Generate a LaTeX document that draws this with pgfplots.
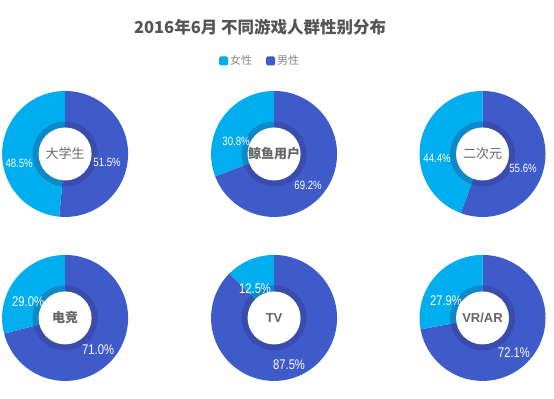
\documentclass[border=0pt]{standalone}
\usepackage{fontspec}
\usepackage{pgfplots}
\usepackage{pgfplotstable}
\pgfplotsset{compat=1.18}
\setmainfont{Noto Sans CJK SC}
\newfontfamily\cjk{Noto Sans CJK SC}
\newfontfamily\labfont[FakeStretch=0.8]{Liberation Sans}
\newfontfamily\latin{Liberation Sans}
\definecolor{fcol}{HTML}{00AEEF}
\definecolor{mcol}{HTML}{3F5BC9}
\definecolor{fdark}{HTML}{0E88C6}
\definecolor{mdark}{HTML}{3A4DAE}
\definecolor{titlegray}{HTML}{555555}
\definecolor{leggray}{HTML}{888888}
\definecolor{cgray}{HTML}{666666}
\tikzset{
  clabA/.style={font=\cjk\fontsize{13pt}{13pt}\selectfont, text=cgray},
  clabB/.style={font=\cjk\bfseries\fontsize{13pt}{13pt}\selectfont, text=cgray},
  clabC/.style={font=\latin\bfseries\fontsize{13pt}{13pt}\selectfont, text=cgray},
}
% cx cy: donut centre; female/male in %; fx fy / mx my: label positions; ls: label size
\pgfplotstableread{
cx    cy  female male fx  fy  mx  my  ls   cs name
65    245 48.5   51.5 19  236 107 237 12   A  大学生
274   245 30.8   69.2 236 258 308 214 12   B  鲸鱼用户
482.5 245 44.4   55.6 437 241 523 231 12   A  二次元
65    81  29.0   71.0 28  97  98  49  14   B  电竞
274   81  12.5   87.5 255 110 289 34  14   C  TV
482.5 81  27.9   72.1 446 98  514 46  14   C  VR/AR
}\pies
\begin{document}
\begin{tikzpicture}
\begin{axis}[
  x=1pt, y=1pt, xmin=0, xmax=554, ymin=0, ymax=399,
  disabledatascaling, hide axis, clip=false,
  legend columns=2,
  legend image code/.code={\fill[#1, rounded corners=1.5pt] (0pt,-4.5pt) rectangle (9pt,4.5pt);},
  legend style={at={(axis description cs:0.4693,0.8471)}, anchor=center, draw=none, fill=none,
    font=\fontsize{11pt}{11pt}\selectfont\color{leggray},
    /tikz/every even column/.append style={column sep=12pt}},
]
\fill[white] (axis cs:0,0) rectangle (axis cs:554,399);
\addlegendimage{fill=fcol, draw=none}
\addlegendentry{女性}
\addlegendimage{fill=mcol, draw=none}
\addlegendentry{男性}
\node[font=\bfseries\fontsize{16.5pt}{16.5pt}\selectfont, text=titlegray] at (axis cs:260,372) {2016年6月 不同游戏人群性别分布};
\pgfplotsforeachungrouped \i in {0,...,5}{%
  \pgfplotstablegetelem{\i}{cx}\of\pies\let\cx\pgfplotsretval
  \pgfplotstablegetelem{\i}{cy}\of\pies\let\cy\pgfplotsretval
  \pgfplotstablegetelem{\i}{female}\of\pies\let\fv\pgfplotsretval
  \pgfplotstablegetelem{\i}{male}\of\pies\let\mv\pgfplotsretval
  \pgfplotstablegetelem{\i}{fx}\of\pies\let\fx\pgfplotsretval
  \pgfplotstablegetelem{\i}{fy}\of\pies\let\fy\pgfplotsretval
  \pgfplotstablegetelem{\i}{mx}\of\pies\let\mx\pgfplotsretval
  \pgfplotstablegetelem{\i}{my}\of\pies\let\my\pgfplotsretval
  \pgfplotstablegetelem{\i}{ls}\of\pies\let\ls\pgfplotsretval
  \pgfplotstablegetelem{\i}{cs}\of\pies\let\cs\pgfplotsretval
  \pgfplotstablegetelem{\i}{name}\of\pies\let\nm\pgfplotsretval
  \edef\doit{%
    \noexpand\fill[mcol] (axis cs:\cx,\cy) -- ++(90:63pt) arc[start angle=90, delta angle=-3.6*\mv, radius=63pt] -- cycle;
    \noexpand\fill[fcol] (axis cs:\cx,\cy) -- ++(90:63pt) arc[start angle=90, delta angle=3.6*\fv, radius=63pt] -- cycle;
    \noexpand\fill[mdark] (axis cs:\cx,\cy) -- ++(90:32.5pt) arc[start angle=90, delta angle=-3.6*\mv, radius=32.5pt] -- cycle;
    \noexpand\fill[fdark] (axis cs:\cx,\cy) -- ++(90:32.5pt) arc[start angle=90, delta angle=3.6*\fv, radius=32.5pt] -- cycle;
    \noexpand\fill[white] (axis cs:\cx,\cy) circle[radius=26.5pt];
    \noexpand\node[clab\cs] at (axis cs:\cx,\cy) {\nm};
    \noexpand\node[text=white, font=\noexpand\labfont\noexpand\fontsize{\ls pt}{\ls pt}\noexpand\selectfont] at (axis cs:\fx,\fy) {\fv\noexpand\%};
    \noexpand\node[text=white, font=\noexpand\labfont\noexpand\fontsize{\ls pt}{\ls pt}\noexpand\selectfont] at (axis cs:\mx,\my) {\mv\noexpand\%};
  }\doit
}
\end{axis}
\end{tikzpicture}
\end{document}
